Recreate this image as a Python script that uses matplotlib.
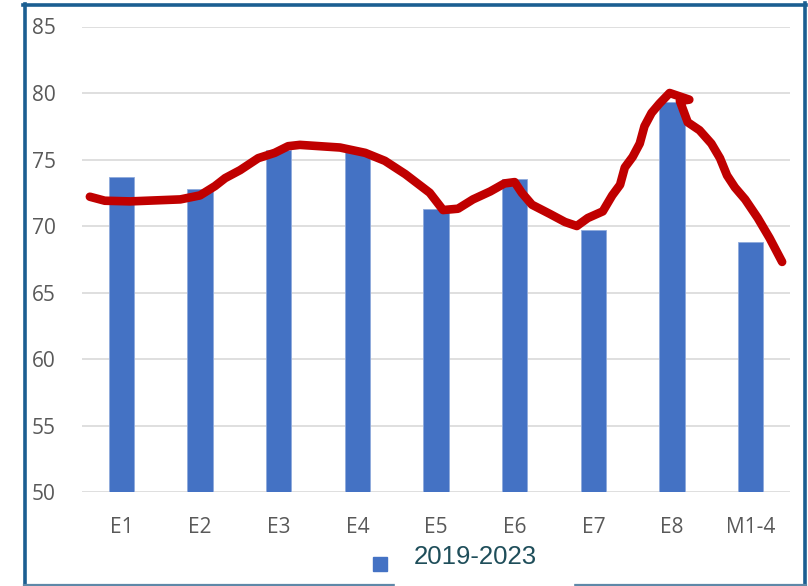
import matplotlib.pyplot as plt
from matplotlib.patches import Rectangle
from matplotlib.lines import Line2D

categories = ["E1", "E2", "E3", "E4", "E5", "E6", "E7", "E8", "M1-4"]
values_2019_2023 = [73.7, 72.8, 75.7, 75.6, 71.3, 73.5, 69.7, 79.3, 68.8]

# hand-drawn red trend line (x in category units)
trend_x = [-0.40, -0.21, 0.11, 0.75, 1.00, 1.19, 1.32, 1.51, 1.74, 1.95, 2.12, 2.27,
           2.78, 3.10, 3.35, 3.61, 3.92, 4.09, 4.28, 4.47, 4.69, 4.87, 5.00, 5.09,
           5.22, 5.45, 5.64, 5.79, 5.93, 6.12, 6.24, 6.34, 6.40, 6.50, 6.59, 6.65,
           6.74, 6.84, 6.97, 7.22, 7.10, 7.20, 7.35, 7.50, 7.61, 7.70, 7.80, 7.93,
           8.09, 8.24, 8.40]
trend_y = [72.2, 71.9, 71.85, 72.0, 72.3, 73.0, 73.6, 74.2, 75.1, 75.5, 76.0, 76.1,
           75.9, 75.5, 74.9, 73.9, 72.5, 71.2, 71.3, 72.0, 72.6, 73.2, 73.3, 72.5,
           71.6, 70.9, 70.3, 70.0, 70.6, 71.1, 72.3, 73.1, 74.4, 75.2, 76.2, 77.5,
           78.5, 79.2, 80.0, 79.5, 79.4, 77.8, 77.2, 76.2, 75.1, 73.8, 72.9, 72.0,
           70.6, 69.1, 67.3]

legend_label = "2019-2023"
yticks = [50, 55, 60, 65, 70, 75, 80, 85]

W, H = 808, 586
fig = plt.figure(figsize=(W / 100, H / 100), dpi=100)
fig.patch.set_facecolor("white")

ax = fig.add_axes([82 / W, (H - 492) / H, 708 / W, 465.5 / H])
x = list(range(len(categories)))
ax.bar(x, values_2019_2023, width=0.32, color="#4472C4",
       edgecolor="#8FAADC", linewidth=0.6, zorder=2)
ax.plot(trend_x, trend_y, color="#C00000", linewidth=6.2,
        solid_capstyle="round", solid_joinstyle="round", zorder=3, clip_on=False)

ax.set_xlim(-0.5, len(categories) - 0.5)
ax.set_ylim(50, 85)
ax.set_yticks(yticks)
ax.set_xticks(x)
ax.set_xticklabels(categories)
ax.grid(axis="y", color="#D9D9D9", linewidth=1.2, zorder=0)
ax.set_axisbelow(True)
for s in ax.spines.values():
    s.set_visible(False)
ax.tick_params(length=0, labelcolor="#595959", labelsize=15)
ax.tick_params(axis="y", pad=19)
ax.tick_params(axis="x", pad=18)
for lab in ax.get_xticklabels() + ax.get_yticklabels():
    lab.set_family("Open Sans")

# frame around the chart
def fx(px):
    return px / W

def fy(py):
    return (H - py) / H

dark = "#1B5E91"
fig.add_artist(Line2D([fx(24.5), fx(24.5)], [fy(4), fy(585)], color=dark, linewidth=2.6))
fig.add_artist(Line2D([fx(23), fx(806)], [fy(4.5), fy(4.5)], color=dark, linewidth=2.6))
fig.add_artist(Line2D([fx(804.5), fx(804.5)], [fy(3), fy(585)], color=dark, linewidth=2.6))
fig.add_artist(Line2D([fx(24), fx(806)], [fy(584.5), fy(584.5)], color="#5E88A8", linewidth=1.6))

# legend marker and label
fig.add_artist(Rectangle((fx(373), fy(571)), 14 / W, 14 / H, color="#4472C4",
                         transform=fig.transFigure))
fig.add_artist(Rectangle((fx(395), fy(586)), 178 / W, 48 / H, color="white",
                         transform=fig.transFigure, zorder=5))
fig.text(fx(414), fy(557), legend_label, color="#1F4E5A", fontsize=18.5,
         family="Liberation Sans", ha="left", va="center", zorder=6)

fig.savefig("out.png", dpi=100)
